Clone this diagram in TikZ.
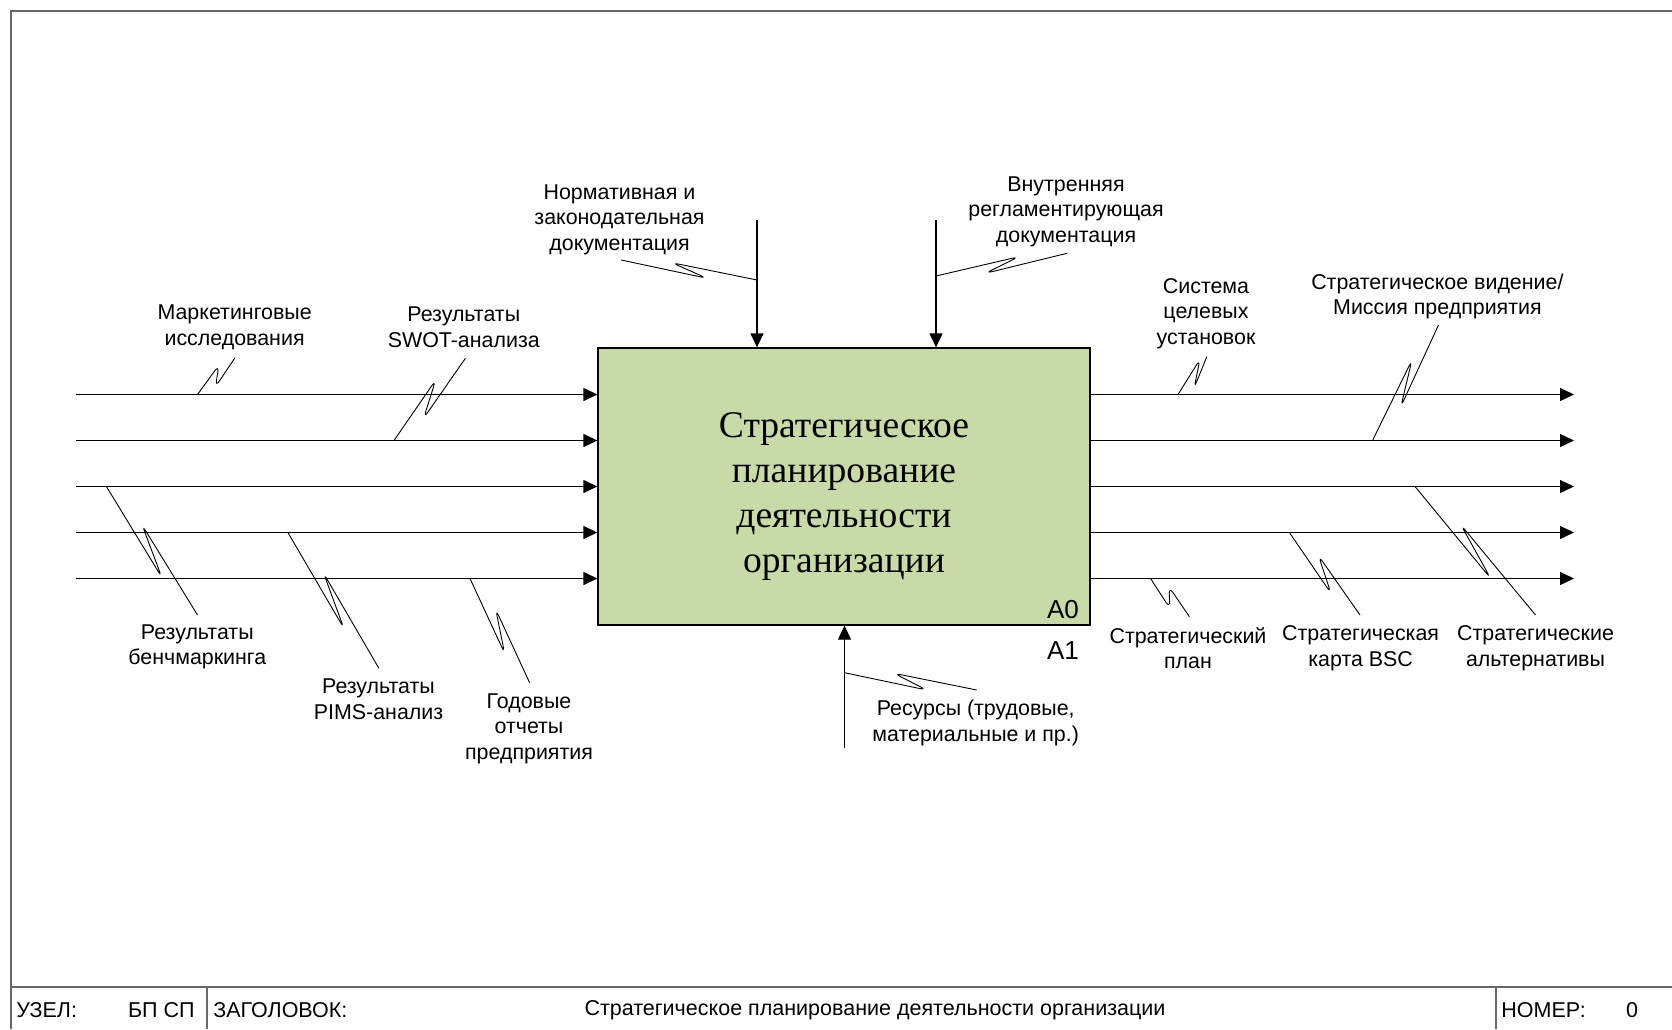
\documentclass[tikz,border=0pt]{standalone}
\usepackage{fontspec}
\setmainfont{Liberation Sans}
\newfontfamily\serifru{Liberation Serif}
\usetikzlibrary{arrows.meta}
\definecolor{boxgreen}{RGB}{201,218,169}
\definecolor{framegray}{RGB}{105,105,105}
\begin{document}
\begin{tikzpicture}[x=0.5pt,y=-0.5pt,
  flow/.style={line width=0.65pt,-{Triangle[length=7pt,width=6.5pt]}},
  squig/.style={line width=0.45pt,rounded corners=3.5pt},
  lbl/.style={inner sep=0pt,align=center,font=\fontsize{10.7}{12.8}\selectfont},
  ftxt/.style={inner sep=0pt,font=\fontsize{10.75}{12.8}\selectfont},
  frameline/.style={line width=0.8pt,draw=framegray},
  tag/.style={inner sep=0pt,font=\fontsize{13}{15}\selectfont}
]
\useasboundingbox (0,0) rectangle (1672,1029);

% frame
\draw[frameline] (1672,11) -- (11,11) -- (11,1029);
\draw[frameline] (11,987) -- (1672,987);
\draw[frameline] (207,987) -- (207,1029);
\draw[frameline] (1496,987) -- (1496,1029);

% footer texts
\node[ftxt,anchor=west] (fuzel) at (16,1010) {УЗЕЛ:};
\node[ftxt,anchor=east] (fnode) at (195,1010) {БП СП};
\node[ftxt,anchor=west] (fzag) at (213,1010) {ЗАГОЛОВОК:};
\node[ftxt] (ftitle) at (875,1010) {Стратегическое планирование деятельности организации};
\node[ftxt,anchor=west] (fnom) at (1501,1010) {НОМЕР:};
\node[ftxt] (fnum) at (1632,1010) {0};

% main box
\node[draw,line width=0.65pt,fill=boxgreen,minimum width=246pt,minimum height=138.5pt,inner sep=0pt] (box) at (844,486.5) {};
\node[inner sep=0pt,align=center,font=\serifru\fontsize{18.8}{22.4}\selectfont] (title) at (844,496.5) {Стратегическое\\планирование\\деятельности\\организации};
\node[tag] (a0) at (1063,610) {A0};
\node[tag] (a1) at (1063,651) {A1};

% input free ends
\foreach \i/\y in {1/394.5,2/440.5,3/486.5,4/532.5,5/578.5}{
  \coordinate (in\i) at (76,\y);
  \coordinate (out\i) at (1574,\y);
  \draw[flow] (in\i) -- (box.west |- in\i);
  \draw[flow] (box.east |- out\i) -- (out\i);
}
% controls
\coordinate (c1) at (757,220);
\coordinate (c2) at (936,220);
\draw[flow] (c1) -- (c1 |- box.north);
\draw[flow] (c2) -- (c2 |- box.north);
% mechanism
\coordinate (m1) at (844.5,748);
\draw[flow] (m1) -- (m1 |- box.south);

% labels
\node[lbl] (lmark) at (234.6,327.5) {Маркетинговые\\исследования};
\node[lbl] (lswot) at (463.8,327.5) {Результаты\\SWOT-анализа};
\node[lbl] (lbench) at (197.3,647) {Результаты\\бенчмаркинга};
\node[lbl] (lpims) at (378.5,699.5) {Результаты\\PIMS-анализ};
\node[lbl] (lannual) at (529,728.5) {Годовые\\отчеты\\предприятия};
\node[lbl] (lnorm) at (619.5,219.5) {Нормативная и\\законодательная\\документация};
\node[lbl] (linner) at (1066,211.5) {Внутренняя\\регламентирующая\\документация};
\node[lbl] (lsys) at (1206,313.5) {Система\\целевых\\установок};
\node[lbl] (lmission) at (1437.4,296.5) {Стратегическое видение/\\Миссия предприятия};
\node[lbl] (lplan) at (1188,648) {Стратегический\\план};
\node[lbl] (lbsc) at (1360.6,648) {Стратегическая\\карта BSC};
\node[lbl] (lalt) at (1535.5,648) {Стратегические\\альтернативы};
\node[lbl] (lres) at (975.7,723) {Ресурсы (трудовые,\\материальные и пр.)};

% squiggles
\draw[squig] (197.5,394.5) -- (219,365) -- (215.4,387) -- (235,357.7);
\draw[squig] (394,440.5) -- (435.7,380) -- (423.6,418.3) -- (465.4,358.3);
\draw[squig] (106.4,486.5) -- (161.8,577.3) -- (142.1,525) -- (197.5,615);
\draw[squig] (287.9,532.5) -- (343.9,628.3) -- (323.6,573.3) -- (378.9,668.3);
\draw[squig] (470,578.5) -- (504.6,653.3) -- (495.7,609.3) -- (529.6,682.7);
\draw[squig] (757,280) -- (671.8,262.7) -- (707,278.3) -- (621.2,260);
\draw[squig] (936,276) -- (1018.8,256.7) -- (985.3,273.3) -- (1067,253.3);
\draw[squig] (1178,394.5) -- (1200,359.3) -- (1194,388.3) -- (1206.8,356.7);
\draw[squig] (1372.5,440.5) -- (1412,360) -- (1400.8,406.7) -- (1438.5,325);
\draw[squig] (1150.6,578.5) -- (1169.8,608.3) -- (1169,586.7) -- (1189.4,616.7);
\draw[squig] (1289.4,532.5) -- (1331,593.3) -- (1318.5,555.7) -- (1360,615);
\draw[squig] (1415,486.5) -- (1490.6,578.3) -- (1461,525) -- (1535.5,615);
\draw[squig] (844.5,672.7) -- (926.7,690) -- (894,673.3) -- (976.7,690);
\end{tikzpicture}
\end{document}
